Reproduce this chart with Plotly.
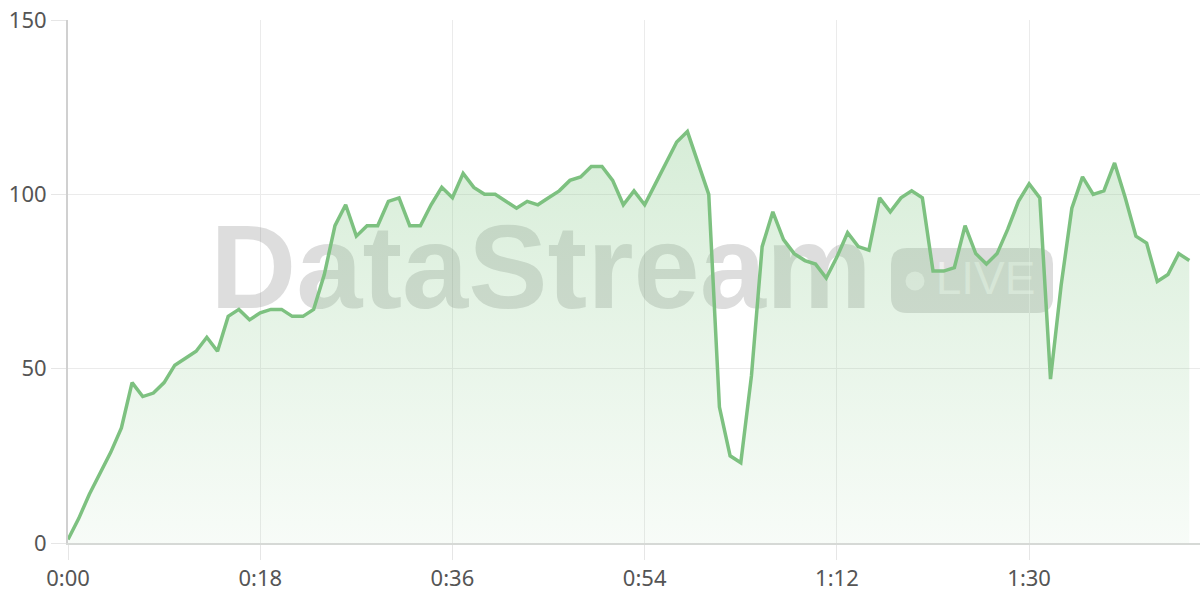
import plotly.graph_objects as go

# ---- data (one reading per second) ----
seconds = list(range(0, 106))
values = [1, 7, 14, 20, 26, 33, 46, 42, 43, 46,
          51, 53, 55, 59, 55, 65, 67, 64, 66, 67,
          67, 65, 65, 67, 77, 91, 97, 88, 91, 91,
          98, 99, 91, 91, 97, 102, 99, 106, 102, 100,
          100, 98, 96, 98, 97, 99, 101, 104, 105, 108,
          108, 104, 97, 101, 97, 103, 109, 115, 118, 109,
          100, 39, 25, 23, 48, 85, 95, 87, 83, 81,
          80, 76, 82, 89, 85, 84, 99, 95, 99, 101,
          99, 78, 78, 79, 91, 83, 80, 83, 90, 98,
          103, 99, 47, 74, 96, 105, 100, 101, 109, 99,
          88, 86, 75, 77, 83, 81]
x_tick_vals = [0, 18, 36, 54, 72, 90]
x_tick_text = [f"{v // 60}:{v % 60:02d}" for v in x_tick_vals]
y_tick_vals = [0, 50, 100, 150]
watermark_text = "DataStream"
badge_text = "LIVE"

LINE = "#7dc180"
W, H = 1200, 600
ML, MR, MT, MB = 68, 0, 20, 57
PW, PH = W - ML - MR, H - MT - MB


def px(xp):
    return (xp - ML) / PW


def py(yp):
    return (H - MB - yp) / PH


fig = go.Figure()

# watermark on base (hidden) axes, drawn below data
fig.add_trace(go.Scatter(
    x=[px(541)], y=[py(278)], mode="text", text=[watermark_text],
    textfont=dict(family="Liberation Sans", size=119, weight="bold",
                  color="rgba(110,110,110,0.23)"),
    hoverinfo="skip", showlegend=False, xaxis="x", yaxis="y"))
fig.add_trace(go.Scatter(
    x=[px(985.5)], y=[py(282)], mode="text", text=[badge_text],
    textfont=dict(family="Liberation Sans", size=46,
                  color="rgba(255,255,255,0.55)"),
    hoverinfo="skip", showlegend=False, xaxis="x", yaxis="y"))

# data
fig.add_trace(go.Scatter(
    x=seconds, y=values, mode="lines",
    line=dict(color=LINE, width=3.5),
    fill="tozeroy",
    fillgradient=dict(type="vertical", start=0, stop=max(values),
                      colorscale=[[0, "rgba(129,199,132,0.06)"],
                                  [1, "rgba(129,199,132,0.32)"]]),
    hoverinfo="skip", showlegend=False, xaxis="x2", yaxis="y2"))

# badge pill
x0, x1 = px(891), px(1053)
y0, y1 = py(313), py(248)
rx, ry = 16 / PW, 16 / PH
path = (f"M {x0+rx},{y0} L {x1-rx},{y0} Q {x1},{y0} {x1},{y0+ry} "
        f"L {x1},{y1-ry} Q {x1},{y1} {x1-rx},{y1} L {x0+rx},{y1} "
        f"Q {x0},{y1} {x0},{y1-ry} L {x0},{y0+ry} Q {x0},{y0} {x0+rx},{y0} Z")
shapes = [
    dict(type="path", path=path, xref="paper", yref="paper",
         fillcolor="rgba(110,110,110,0.23)", line=dict(width=0), layer="between"),
    dict(type="circle", xref="paper", yref="paper",
         x0=px(905.5), x1=px(924.5), y0=py(290.5), y1=py(271.5),
         fillcolor="rgba(255,255,255,0.55)", line=dict(width=0), layer="between"),
]

tickfont = dict(family="Noto Sans", size=22, color="#555555")
fig.update_layout(
    width=W, height=H,
    margin=dict(l=ML, r=MR, t=MT, b=MB, pad=0, autoexpand=False),
    paper_bgcolor="white", plot_bgcolor="white",
    shapes=shapes,
    xaxis=dict(range=[0, 1], visible=False, fixedrange=True, automargin=False),
    yaxis=dict(range=[0, 1], visible=False, fixedrange=True, automargin=False),
    xaxis2=dict(overlaying="x", range=[0, 106], tickvals=x_tick_vals,
                ticktext=x_tick_text, showgrid=True, gridcolor="#ebebeb",
                gridwidth=1, ticks="outside", ticklen=15, tickcolor="#e6e6e6",
                showline=True, linecolor="#d6d9d6", linewidth=2,
                zeroline=False, tickfont=tickfont, anchor="y2", automargin=False),
    yaxis2=dict(overlaying="y", range=[0, 150], tickvals=y_tick_vals,
                showgrid=True, gridcolor="#ebebeb", gridwidth=1,
                ticks="outside", ticklen=15, tickcolor="#e6e6e6",
                showline=True, linecolor="#d0d0d0", linewidth=2,
                zeroline=False, tickfont=tickfont, anchor="x2", side="left",
                automargin=False),
)

fig.write_html("out.html", config={"displayModeBar": False},
               post_script="document.body.style.margin='0';"
                           "document.body.style.overflow='hidden';")
